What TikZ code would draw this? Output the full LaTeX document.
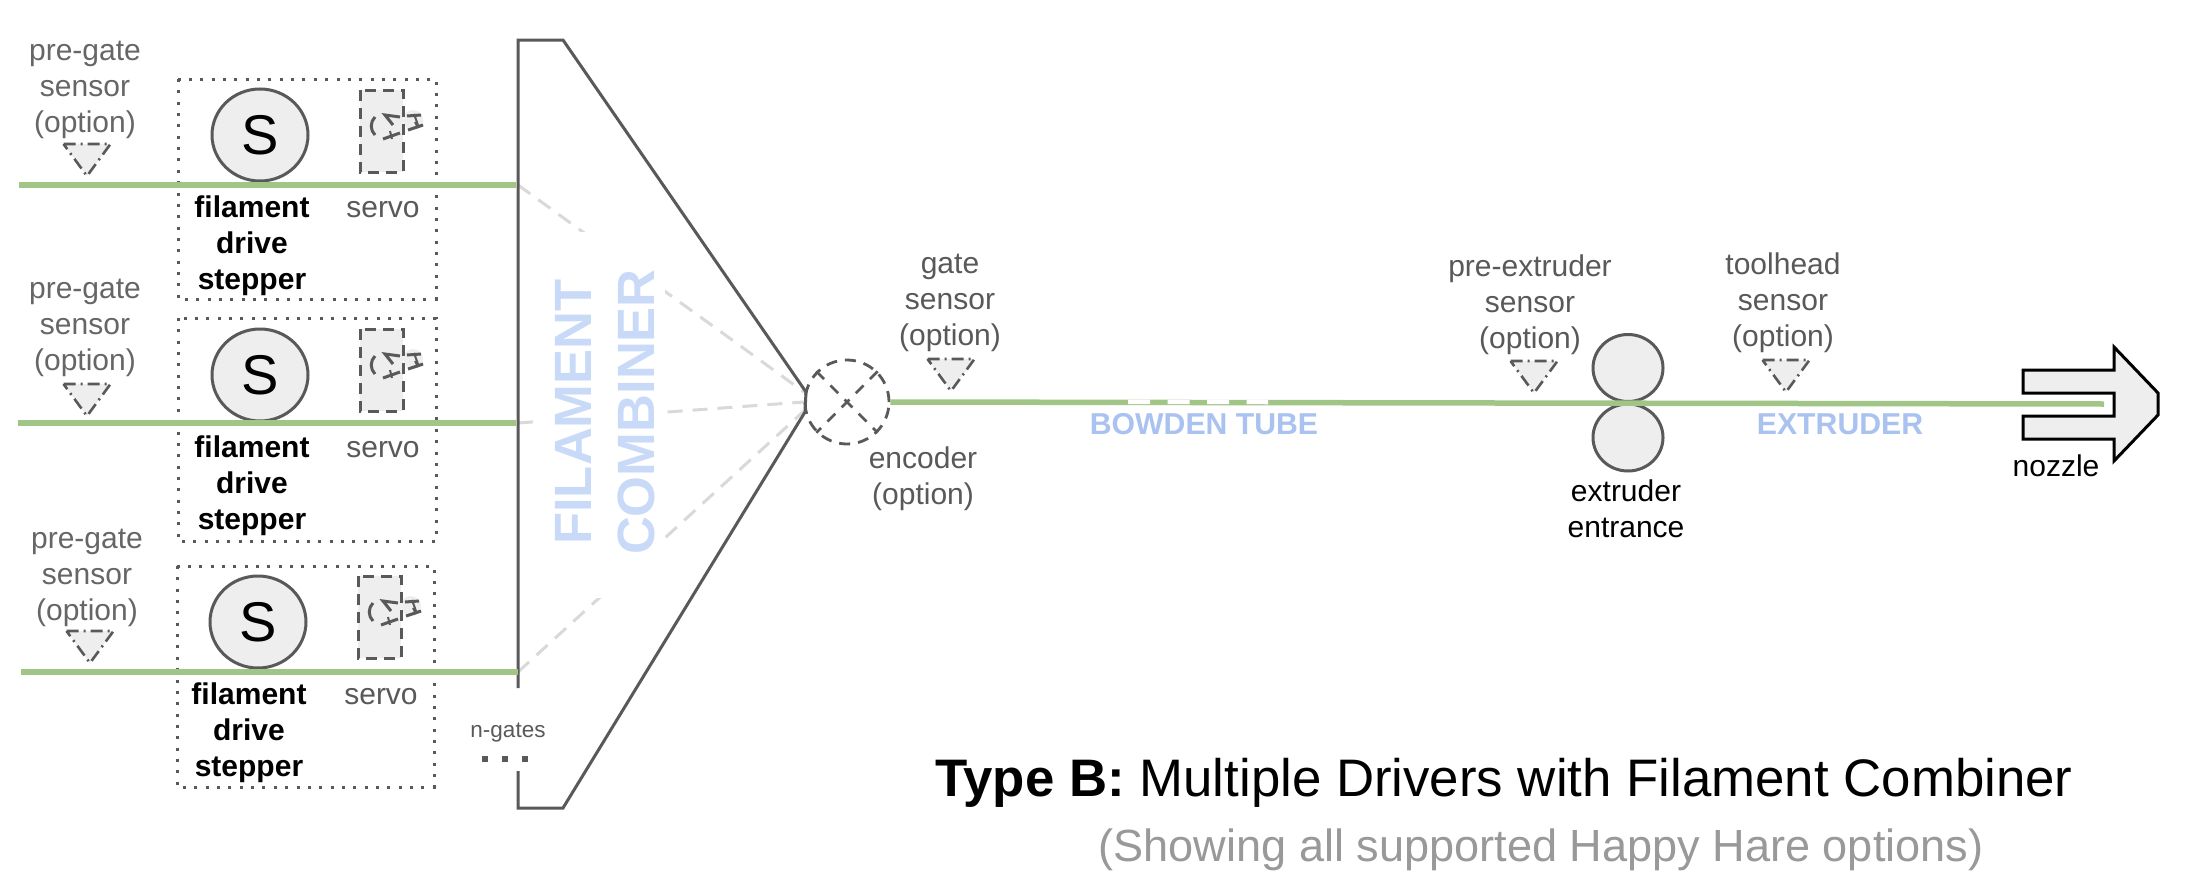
\documentclass[tikz,border=0pt]{standalone}
\usepackage{fontspec}
\setmainfont{Liberation Sans}
\usetikzlibrary{shapes.geometric}
\definecolor{inkgray}{HTML}{595959}
\definecolor{softgray}{HTML}{666666}
\definecolor{lightfill}{HTML}{EEEEEE}
\definecolor{filamentgreen}{HTML}{A0C586}
\definecolor{guidegray}{HTML}{D9D9D9}
\definecolor{bluelabel}{HTML}{A9C2F0}
\definecolor{bluepale}{HTML}{C9DAF8}
\definecolor{subgray}{HTML}{999999}
\tikzset{
  lbl/.style={font=\fontsize{30}{36}\selectfont,align=center,text=inkgray,inner sep=0pt},
  lblsoft/.style={lbl,text=softgray},
  lblblack/.style={lbl,text=black},
  lblbold/.style={lbl,text=black,font=\fontsize{30}{36}\selectfont\bfseries},
  bluetext/.style={font=\fontsize{30.2}{36}\selectfont\bfseries,text=bluelabel,inner sep=0pt},
  filament/.style={draw=filamentgreen,line width=5.5pt},
  guide/.style={draw=guidegray,line width=3pt,dash pattern=on 15pt off 10pt},
  outline/.style={draw=inkgray,line width=3pt,line join=miter},
  dotbox/.style={draw=inkgray,line width=3pt,dash pattern=on 3pt off 8.35pt},
  motor/.style={ellipse,draw=inkgray,line width=3pt,fill=lightfill,minimum width=96pt,minimum height=92pt,inner sep=0pt,text=black,font=\fontsize{56}{60}\selectfont},
  roller/.style={ellipse,draw=inkgray,line width=3pt,fill=lightfill,minimum width=70pt,minimum height=67pt,inner sep=0pt},
  servopart/.style={draw=inkgray,line width=3pt},
  sensor/.pic={
    \fill[lightfill] (-23.5,-16)--(23.5,-16)--(0,16)--cycle;
    \draw[draw=inkgray,line width=2.6pt,dash pattern=on 12pt off 5pt on 2pt off 5pt] (-23.5,-16)--(23.5,-16)--(0,16)--cycle;
  },
  servoicon/.pic={
    \fill[lightfill] (0,0) rectangle (43,82);
    \fill[lightfill] (53,30) ellipse [x radius=10,y radius=10];
    \draw[servopart,dash pattern=on 11pt off 7pt] (0,0) rectangle (43,82);
    \draw[servopart] (15,27) .. controls (10,32) and (10,40) .. (15,45);
    \draw[servopart] (40,27)--(25,25)--(33,35);
    \draw[servopart] (23,49)--(40,43);
    \draw[servopart,line width=2pt] (30,41)--(32,49);
    \draw[servopart] (47,26)--(61,25);
    \draw[servopart,line width=2pt] (54,24)--(58,35);
    \draw[servopart] (48,40)--(63,35);
    \draw[servopart,line width=2pt] (55,32)--(58,38);
  }
}
\begin{document}
\begin{tikzpicture}[x=1pt,y=-1pt]
\useasboundingbox (0,0) rectangle (2188,894);
\fill[white] (0,0) rectangle (2188,894);

% combiner guides, masked by the label block
\coordinate (in1) at (518,185);
\coordinate (in2) at (518,423);
\coordinate (in3) at (518,672);
\coordinate (join1) at (804,392);
\coordinate (join2) at (804,402);
\coordinate (join3) at (804,411);
\draw[guide] (in1)--(join1);
\draw[guide] (in2)--(join2);
\draw[guide] (in3)--(join3);
\fill[white] (540,232) rectangle (665,598);
\node[text=bluepale,font=\fontsize{52.5}{63}\selectfont\bfseries,align=center,rotate=90,inner sep=0pt] (combinerlabel) at (605,412) {FILAMENT\\COMBINER};

% combiner outline
\coordinate (c1) at (518,688);
\coordinate (c2) at (518,40);
\coordinate (c3) at (563,40);
\coordinate (c4) at (806,392);
\coordinate (c5) at (805,412);
\coordinate (c6) at (563,808);
\coordinate (c7) at (518,808);
\coordinate (c8) at (518,771);
\draw[outline] (c1)--(c2)--(c3)--(c4)--(c5)--(c6)--(c7)--(c8);
\node[lbl,font=\fontsize{22.5}{26}\selectfont] (ngates) at (508,733) {n-gates};
\coordinate (d1) at (482,759);
\coordinate (d2) at (530,759);
\draw[draw=inkgray,line width=6pt,dash pattern=on 6pt off 14pt] (d1)--(d2);

% row 1
\draw[dotbox] (178,79) rectangle (436,299);
\node[motor] (m1) at (260,135) {S};
\pic (sv1) at (360,90) {servoicon};
\pic (ps1) at (87,160) {sensor};
\coordinate (f1) at (19,185);
\draw[filament] (f1)--(516,185);
\node[lblsoft] (tg1) at (85,90) {pre-gate\\sensor\\(option)};
\node[lblbold] (st1) at (252,246) {filament\\drive\\stepper};
\node[lbl] (sl1) at (383,210) {servo};

% row 2
\draw[dotbox] (178,318) rectangle (436,541);
\node[motor] (m2) at (260,375) {S};
\pic (sv2) at (360,329) {servoicon};
\pic (ps2) at (87,400) {sensor};
\coordinate (f2) at (18,423);
\draw[filament] (f2)--(516,423);
\node[lblsoft] (tg2) at (85,328) {pre-gate\\sensor\\(option)};
\node[lblbold] (st2) at (252,486) {filament\\drive\\stepper};
\node[lbl] (sl2) at (383,450) {servo};

% row 3
\draw[dotbox] (177,566) rectangle (434,787);
\node[motor] (m3) at (258,622) {S};
\pic (sv3) at (358,576) {servoicon};
\pic (ps3) at (90,647) {sensor};
\coordinate (f3) at (21,672);
\draw[filament] (f3)--(518,672);
\node[lblsoft] (tg3) at (87,578) {pre-gate\\sensor\\(option)};
\node[lblbold] (st3) at (249,733) {filament\\drive\\stepper};
\node[lbl] (sl3) at (381,697) {servo};

% encoder
\node[ellipse,draw=inkgray,line width=2.8pt,dash pattern=on 11pt off 8pt,minimum width=84pt,minimum height=84pt,inner sep=0pt] (enc) at (847,402) {};
\draw[draw=inkgray,line width=2.6pt,dash pattern=on 11pt off 9pt] (enc.north west)--(enc.south east);
\draw[draw=inkgray,line width=2.6pt,dash pattern=on 11pt off 9pt] (enc.north east)--(enc.south west);
\node[lbl] (enclabel) at (923,478.5) {encoder\\(option)};

% main filament
\coordinate (nozzletip) at (2104,404);
\node[roller] (rt) at (1628,368) {};
\node[roller] (rb) at (1628,437.5) {};

% nozzle
\coordinate (n1) at (2023,370);
\coordinate (n2) at (2114,370);
\coordinate (n3) at (2114,347);
\coordinate (n4) at (2158,393);
\coordinate (n5) at (2158,415);
\coordinate (n6) at (2114,461);
\coordinate (n7) at (2114,439);
\coordinate (n8) at (2023,439);
\coordinate (n9) at (2023,416);
\coordinate (n10) at (2114,416);
\coordinate (n11) at (2114,393);
\coordinate (n12) at (2023,393);
\draw[draw=black,line width=3pt,fill=lightfill] (n1)--(n2)--(n3)--(n4)--(n5)--(n6)--(n7)--(n8)--(n9)--(n10)--(n11)--(n12)--cycle;

\draw[filament] (enc.east)--(nozzletip);
\coordinate (b1) at (1128,401.8);
\coordinate (b2) at (1268,402);
\draw[draw=white,line width=4.5pt,dash pattern=on 22pt off 17.5pt] (b1)--(b2);

\pic (ps4) at (951,375) {sensor};
\pic (ps5) at (1534,377) {sensor};
\pic (ps6) at (1786,376) {sensor};

\node[lbl] (tg4) at (950,303) {gate\\sensor\\(option)};
\node[lbl] (tg5) at (1530,305) {pre-extruder\\sensor\\(option)};
\node[lbl] (tg6) at (1783,303) {toolhead\\sensor\\(option)};
\node[lblblack] (ext) at (1626,508.5) {extruder\\entrance};
\node[lblblack] (noz) at (2056,466) {nozzle};
\node[bluetext] (bowden) at (1204,424) {BOWDEN TUBE};
\node[bluetext] (extruder) at (1840,424) {EXTRUDER};

\node[anchor=west,inner sep=0pt,text=black,font=\fontsize{52.8}{60}\selectfont] (title) at (935,783) {\textbf{Type B:} Multiple Drivers with Filament Combiner};
\node[inner sep=0pt,text=subgray,font=\fontsize{45.1}{52}\selectfont] (subtitle) at (1541,850) {(Showing all supported Happy Hare options)};
\end{tikzpicture}
\end{document}
